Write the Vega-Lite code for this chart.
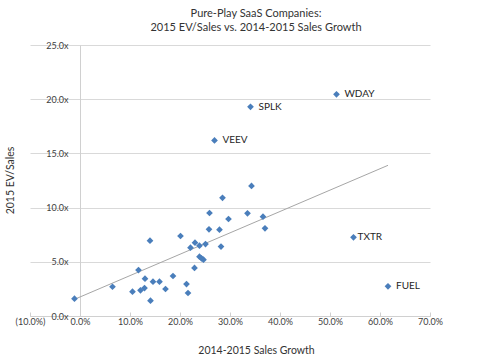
{
  "$schema": "https://vega.github.io/schema/vega-lite/v6.json",
  "width": 400,
  "height": 271,
  "autosize": {"type": "none"},
  "padding": {"left": 30, "top": 45, "right": 50, "bottom": 46},
  "background": "white",
  "config": {
    "font": "Lato",
    "view": {"stroke": null}
  },
  "title": {
    "text": ["Pure-Play SaaS Companies:", "2015 EV/Sales vs. 2014-2015 Sales Growth"],
    "fontSize": 11,
    "fontWeight": "normal",
    "color": "#333333",
    "lineHeight": 14,
    "offset": 8,
    "dx": 26
  },
  "data": {
    "values": [
      {"growth": -1.1, "ev": 1.6, "label": null},
      {"growth": 6.5, "ev": 2.7, "label": null},
      {"growth": 10.5, "ev": 2.24, "label": null},
      {"growth": 12.1, "ev": 2.37, "label": null},
      {"growth": 12.9, "ev": 2.58, "label": null},
      {"growth": 11.7, "ev": 4.24, "label": null},
      {"growth": 13.0, "ev": 3.44, "label": null},
      {"growth": 14.0, "ev": 6.95, "label": null},
      {"growth": 14.1, "ev": 1.41, "label": null},
      {"growth": 14.6, "ev": 3.17, "label": null},
      {"growth": 15.9, "ev": 3.17, "label": null},
      {"growth": 17.1, "ev": 2.49, "label": null},
      {"growth": 18.6, "ev": 3.69, "label": null},
      {"growth": 20.1, "ev": 7.38, "label": null},
      {"growth": 21.3, "ev": 2.95, "label": null},
      {"growth": 21.6, "ev": 2.12, "label": null},
      {"growth": 22.1, "ev": 6.3, "label": null},
      {"growth": 22.9, "ev": 4.43, "label": null},
      {"growth": 23.0, "ev": 6.76, "label": null},
      {"growth": 23.9, "ev": 6.49, "label": null},
      {"growth": 23.9, "ev": 5.47, "label": null},
      {"growth": 24.3, "ev": 5.32, "label": null},
      {"growth": 24.7, "ev": 5.2, "label": null},
      {"growth": 25.1, "ev": 6.64, "label": null},
      {"growth": 25.9, "ev": 9.5, "label": null},
      {"growth": 25.8, "ev": 8.0, "label": null},
      {"growth": 27.9, "ev": 7.96, "label": null},
      {"growth": 28.2, "ev": 6.4, "label": null},
      {"growth": 28.5, "ev": 10.9, "label": null},
      {"growth": 29.7, "ev": 8.95, "label": null},
      {"growth": 33.5, "ev": 9.47, "label": null},
      {"growth": 34.3, "ev": 12.0, "label": null},
      {"growth": 36.6, "ev": 9.16, "label": null},
      {"growth": 37.0, "ev": 8.09, "label": null},
      {"growth": 26.9, "ev": 16.2, "label": "VEEV"},
      {"growth": 34.1, "ev": 19.3, "label": "SPLK"},
      {"growth": 51.3, "ev": 20.45, "label": "WDAY"},
      {"growth": 54.7, "ev": 7.26, "label": "TXTR"},
      {"growth": 61.6, "ev": 2.74, "label": "FUEL"}
    ]
  },
  "encoding": {
    "x": {
      "field": "growth",
      "type": "quantitative",
      "scale": {"domain": [-10, 70], "nice": false, "zero": false},
      "axis": {
        "title": "2014-2015 Sales Growth",
        "titleFontSize": 10.5,
        "titleFontWeight": "normal",
        "titleColor": "#333333",
        "titleX": 226,
        "titleY": 34,
        "titleAlign": "center",
        "titleBaseline": "middle",
        "values": [-10, 0, 10, 20, 30, 40, 50, 60, 70],
        "labelExpr": "datum.value < 0 ? '(' + format(-datum.value, '.1f') + '%)' : format(datum.value, '.1f') + '%'",
        "labelFontSize": 9,
        "labelColor": "#404040",
        "labelPadding": 5,
        "grid": false,
        "domainColor": "#D0D0D0",
        "tickColor": "#D0D0D0",
        "tickSize": -4,
        "labelFlush": false
      }
    },
    "y": {
      "field": "ev",
      "type": "quantitative",
      "scale": {"domain": [0, 25], "nice": false},
      "axis": {
        "title": "2015 EV/Sales",
        "titleFontSize": 10.5,
        "titleFontWeight": "normal",
        "titleColor": "#333333",
        "titleX": -70,
        "titleY": 135,
        "titleAngle": -90,
        "titleAlign": "center",
        "titleBaseline": "middle",
        "offset": -50,
        "values": [0, 5, 10, 15, 20, 25],
        "labelExpr": "format(datum.value, '.1f') + 'x'",
        "labelFontSize": 9,
        "labelColor": "#404040",
        "labelPadding": 12,
        "tickSize": 0,
        "grid": true,
        "gridColor": "#D9D9D9",
        "domainColor": "#D0D0D0",
        "labelFlush": false
      }
    }
  },
  "layer": [
    {
      "transform": [{"regression": "ev", "on": "growth"}],
      "mark": {"type": "line", "color": "#A6A6A6", "strokeWidth": 1}
    },
    {
      "mark": {"type": "point", "shape": "diamond", "filled": true, "color": "#4A7EBB", "size": 45, "opacity": 1}
    },
    {
      "transform": [{"filter": "datum.label != null && datum.label != 'TXTR'"}],
      "mark": {"type": "text", "align": "left", "baseline": "middle", "dx": 8, "fontSize": 10, "color": "#262626"},
      "encoding": {"text": {"field": "label"}}
    },
    {
      "transform": [{"filter": "datum.label == 'TXTR'"}],
      "mark": {"type": "text", "align": "left", "baseline": "middle", "dx": 4, "fontSize": 10, "color": "#262626"},
      "encoding": {"text": {"field": "label"}}
    }
  ]
}
